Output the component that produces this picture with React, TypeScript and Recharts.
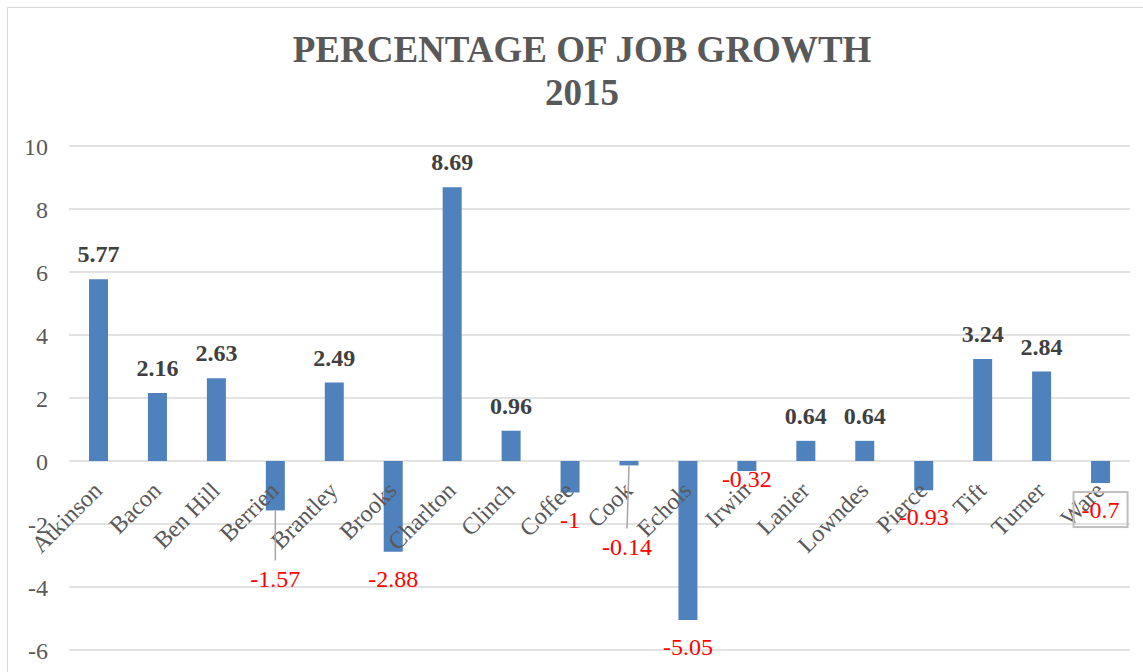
import { BarChart, Bar, XAxis, YAxis, CartesianGrid, LabelList } from 'recharts';

const counties = [
  'Atkinson', 'Bacon', 'Ben Hill', 'Berrien', 'Brantley', 'Brooks', 'Charlton', 'Clinch', 'Coffee',
  'Cook', 'Echols', 'Irwin', 'Lanier', 'Lowndes', 'Pierce', 'Tift', 'Turner', 'Ware',
];
const growth = [
  5.77, 2.16, 2.63, -1.57, 2.49, -2.88, 8.69, 0.96, -1, -0.14, -5.05, -0.32, 0.64, 0.64, -0.93, 3.24, 2.84, -0.7,
];
const yTicks = [-6, -4, -2, 0, 2, 4, 6, 8, 10];

const data = counties.map((county, i) => ({ county, growth: growth[i] }));

// hand-placed data labels, as in the original sheet
const labelNudge: Record<string, { dx?: number; dy?: number; leader?: boolean; box?: boolean }> = {
  Berrien: { dy: 42, leader: true },
  Cook: { dx: -2, dy: 55, leader: true },
  Irwin: { dy: -19 },
  Ware: { box: true },
};

const FONT = "'Liberation Serif', 'Times New Roman', serif";
const GRAY = '#595959';

function barBox(props: any) {
  const vb = props.viewBox || props;
  const x = Number(vb.x);
  const y = Number(vb.y);
  const w = Number(vb.width);
  const h = Number(vb.height);
  const top = Math.min(y, y + h);
  const bottom = Math.max(y, y + h);
  return { cx: x + w / 2, top, bottom };
}

function CountyLabel(props: any) {
  const { cx, top, bottom } = barBox(props);
  const value = growth[props.index];
  const zeroY = value >= 0 ? bottom : top;
  const ax = cx + 5;
  const ay = zeroY + 31;
  return (
    <text
      x={ax}
      y={ay}
      textAnchor="end"
      transform={`rotate(-45, ${ax}, ${ay})`}
      fill={GRAY}
      fontSize={24}
      fontFamily={FONT}
    >
      {props.value}
    </text>
  );
}

function ValueLabel(props: any) {
  const { cx, top, bottom } = barBox(props);
  const value = growth[props.index];
  if (value >= 0) {
    return (
      <text x={cx} y={top - 17} textAnchor="middle" fill="#404040" fontSize={24} fontWeight="bold" fontFamily={FONT}>
        {value}
      </text>
    );
  }
  const n = labelNudge[counties[props.index]] || {};
  const tx = cx + (n.dx || 0);
  const ty = bottom + 35 + (n.dy || 0);
  return (
    <g>
      {n.leader && (
        <line x1={cx} y1={bottom} x2={tx} y2={ty - 27} stroke="#a6a6a6" strokeWidth={1.5} />
      )}
      {n.box && (
        <rect x={tx - 27} y={ty - 26} width={54} height={35} fill="none" stroke="#bfbfbf" strokeWidth={2} />
      )}
      <text x={tx} y={ty} textAnchor="middle" fill="#ff0000" fontSize={24} fontFamily={FONT}>
        {value}
      </text>
    </g>
  );
}

export default function App() {
  return (
    <div style={{ position: 'absolute', left: 0, top: 0, width: 1143, height: 672, overflow: 'hidden', background: '#fff' }}>
      <div
        style={{
          position: 'absolute',
          left: 7,
          top: 7,
          width: 1180,
          height: 700,
          border: '1.5px solid #d9d9d9',
        }}
      />
      <div
        style={{
          position: 'absolute',
          left: 0,
          top: 28,
          width: 1164,
          textAlign: 'center',
          fontFamily: FONT,
          fontWeight: 'bold',
          fontSize: 37,
          lineHeight: '43px',
          color: GRAY,
        }}
      >
        PERCENTAGE OF JOB GROWTH
        <br />
        2015
      </div>
      <div style={{ position: 'absolute', left: 0, top: 0 }}>
        <BarChart width={1143} height={672} data={data} margin={{ top: 146, right: 13, bottom: 22, left: 0 }}>
          <CartesianGrid vertical={false} stroke="#d9d9d9" strokeWidth={1.5} />
          <XAxis dataKey="county" hide />
          <YAxis
            width={69}
            domain={[-6, 10]}
            ticks={yTicks}
            axisLine={false}
            tickLine={false}
            tickSize={0}
            tickMargin={21}
            tick={{ fill: GRAY, fontSize: 24, fontFamily: FONT }}
          />
          <Bar dataKey="growth" fill="#4f81bd" barSize={19} isAnimationActive={false}>
            <LabelList dataKey="county" content={CountyLabel} />
            <LabelList dataKey="growth" content={ValueLabel} />
          </Bar>
        </BarChart>
      </div>
    </div>
  );
}
